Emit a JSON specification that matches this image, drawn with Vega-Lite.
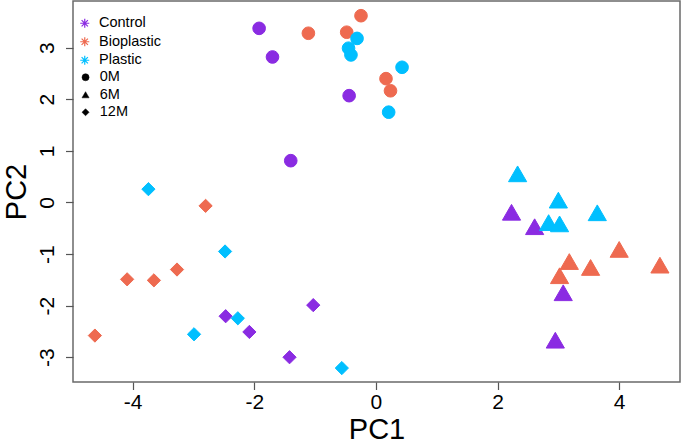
{
  "$schema": "https://vega.github.io/schema/vega-lite/v6.json",
  "autosize": "none",
  "padding": {"left": 73, "top": 1, "right": 5, "bottom": 61},
  "width": 607,
  "height": 381,
  "background": "white",
  "config": {
    "view": {"stroke": "#6a6a6a", "strokeWidth": 1.5},
    "font": "Liberation Sans",
    "legend": {"symbolBaseFillColor": "black", "symbolBaseStrokeColor": "black"},
    "axis": {
      "grid": false,
      "domain": false,
      "tickColor": "#555555",
      "tickSize": 7.5,
      "tickWidth": 1.2,
      "labelColor": "black",
      "labelFont": "Liberation Sans",
      "labelFontSize": 21,
      "titleFont": "Liberation Sans",
      "titleFontSize": 29,
      "titleFontWeight": "normal",
      "titleColor": "black"
    }
  },
  "data": {
    "values": [
      {"PC1": -1.92, "PC2": 3.375, "Treatment": "Control", "Time": "0M"},
      {"PC1": -1.70, "PC2": 2.82, "Treatment": "Control", "Time": "0M"},
      {"PC1": -0.44, "PC2": 2.07, "Treatment": "Control", "Time": "0M"},
      {"PC1": -1.40, "PC2": 0.81, "Treatment": "Control", "Time": "0M"},
      {"PC1": 2.23, "PC2": -0.19, "Treatment": "Control", "Time": "6M"},
      {"PC1": 2.61, "PC2": -0.47, "Treatment": "Control", "Time": "6M"},
      {"PC1": 3.08, "PC2": -1.75, "Treatment": "Control", "Time": "6M"},
      {"PC1": 2.95, "PC2": -2.67, "Treatment": "Control", "Time": "6M"},
      {"PC1": -2.47, "PC2": -2.205, "Treatment": "Control", "Time": "12M"},
      {"PC1": -2.08, "PC2": -2.51, "Treatment": "Control", "Time": "12M"},
      {"PC1": -1.03, "PC2": -1.99, "Treatment": "Control", "Time": "12M"},
      {"PC1": -1.42, "PC2": -3.00, "Treatment": "Control", "Time": "12M"},
      {"PC1": -1.11, "PC2": 3.28, "Treatment": "Bioplastic", "Time": "0M"},
      {"PC1": -0.48, "PC2": 3.30, "Treatment": "Bioplastic", "Time": "0M"},
      {"PC1": -0.245, "PC2": 3.62, "Treatment": "Bioplastic", "Time": "0M"},
      {"PC1": 0.166, "PC2": 2.40, "Treatment": "Bioplastic", "Time": "0M"},
      {"PC1": 0.24, "PC2": 2.165, "Treatment": "Bioplastic", "Time": "0M"},
      {"PC1": 4.00, "PC2": -0.91, "Treatment": "Bioplastic", "Time": "6M"},
      {"PC1": 3.18, "PC2": -1.145, "Treatment": "Bioplastic", "Time": "6M"},
      {"PC1": 3.53, "PC2": -1.26, "Treatment": "Bioplastic", "Time": "6M"},
      {"PC1": 4.67, "PC2": -1.215, "Treatment": "Bioplastic", "Time": "6M"},
      {"PC1": 3.02, "PC2": -1.42, "Treatment": "Bioplastic", "Time": "6M"},
      {"PC1": -2.80, "PC2": -0.066, "Treatment": "Bioplastic", "Time": "12M"},
      {"PC1": -3.27, "PC2": -1.30, "Treatment": "Bioplastic", "Time": "12M"},
      {"PC1": -4.09, "PC2": -1.49, "Treatment": "Bioplastic", "Time": "12M"},
      {"PC1": -3.65, "PC2": -1.51, "Treatment": "Bioplastic", "Time": "12M"},
      {"PC1": -4.62, "PC2": -2.58, "Treatment": "Bioplastic", "Time": "12M"},
      {"PC1": -0.31, "PC2": 3.18, "Treatment": "Plastic", "Time": "0M"},
      {"PC1": -0.45, "PC2": 2.99, "Treatment": "Plastic", "Time": "0M"},
      {"PC1": -0.41, "PC2": 2.86, "Treatment": "Plastic", "Time": "0M"},
      {"PC1": 0.43, "PC2": 2.62, "Treatment": "Plastic", "Time": "0M"},
      {"PC1": 0.21, "PC2": 1.75, "Treatment": "Plastic", "Time": "0M"},
      {"PC1": 2.33, "PC2": 0.555, "Treatment": "Plastic", "Time": "6M"},
      {"PC1": 3.00, "PC2": 0.045, "Treatment": "Plastic", "Time": "6M"},
      {"PC1": 3.64, "PC2": -0.20, "Treatment": "Plastic", "Time": "6M"},
      {"PC1": 2.84, "PC2": -0.39, "Treatment": "Plastic", "Time": "6M"},
      {"PC1": 3.02, "PC2": -0.415, "Treatment": "Plastic", "Time": "6M"},
      {"PC1": -3.74, "PC2": 0.258, "Treatment": "Plastic", "Time": "12M"},
      {"PC1": -2.48, "PC2": -0.95, "Treatment": "Plastic", "Time": "12M"},
      {"PC1": -2.27, "PC2": -2.245, "Treatment": "Plastic", "Time": "12M"},
      {"PC1": -2.99, "PC2": -2.555, "Treatment": "Plastic", "Time": "12M"},
      {"PC1": -0.56, "PC2": -3.21, "Treatment": "Plastic", "Time": "12M"}
    ]
  },
  "encoding": {
    "x": {
      "field": "PC1", "type": "quantitative",
      "scale": {"domain": [-4.98, 5.0], "nice": false, "zero": false},
      "axis": {
        "values": [-4, -2, 0, 2, 4],
        "labelExpr": "datum.value < 0 ? '-' + abs(datum.value) : '' + datum.value",
        "labelPadding": 2,
        "labelFlush": false,
        "title": "PC1",
        "titleY": 56,
        "titleBaseline": "alphabetic"
      }
    },
    "y": {
      "field": "PC2", "type": "quantitative",
      "scale": {"domain": [-3.48, 3.905], "nice": false, "zero": false},
      "axis": {
        "values": [-3, -2, -1, 0, 1, 2, 3],
        "labelExpr": "datum.value < 0 ? '-' + abs(datum.value) : '' + datum.value",
        "labelAngle": 270,
        "labelAlign": "center",
        "labelBaseline": "alphabetic",
        "labelPadding": 12.5,
        "labelFlush": false,
        "title": "PC2",
        "titleAngle": 270,
        "titleX": -48,
        "titleBaseline": "alphabetic"
      }
    },
    "fill": {
      "field": "Treatment", "type": "nominal",
      "scale": {"domain": ["Control", "Bioplastic", "Plastic"], "range": ["#8A2BE2", "#EE6A50", "#00BFFF"]},
      "legend": {
        "orient": "none",
        "legendX": 4.5,
        "legendY": 15,
        "title": null,
        "padding": 0,
        "symbolType": "M0,-1L0,1M-1,0L1,0M-0.7,-0.7L0.7,0.7M-0.7,0.7L0.7,-0.7",
        "symbolSize": 81,
        "symbolStrokeWidth": 1.2,
        "labelFont": "Liberation Sans",
        "labelFontSize": 14.5,
        "labelColor": "black",
        "labelOffset": 7,
        "rowPadding": 2.5
      }
    },
    "stroke": {
      "field": "Treatment", "type": "nominal",
      "scale": {"domain": ["Control", "Bioplastic", "Plastic"], "range": ["#8A2BE2", "#EE6A50", "#00BFFF"]},
      "legend": {
        "orient": "none",
        "legendX": 4.5,
        "legendY": 15,
        "title": null,
        "padding": 0,
        "symbolType": "M0,-1L0,1M-1,0L1,0M-0.7,-0.7L0.7,0.7M-0.7,0.7L0.7,-0.7",
        "symbolSize": 81,
        "symbolStrokeWidth": 1.2,
        "labelFont": "Liberation Sans",
        "labelFontSize": 14.5,
        "labelColor": "black",
        "labelOffset": 7,
        "rowPadding": 2.5
      }
    },
    "shape": {
      "field": "Time", "type": "nominal",
      "scale": {"domain": ["0M", "6M", "12M"], "range": ["circle", "triangle-up", "diamond"]},
      "legend": {
        "orient": "none",
        "legendX": 5.3,
        "legendY": 69,
        "title": null,
        "padding": 0,
        "symbolSize": 50,
        "symbolFillColor": "black",
        "symbolStrokeColor": "black",
        "symbolStrokeWidth": 0.5,
        "labelFont": "Liberation Sans",
        "labelFontSize": 14.5,
        "labelColor": "black",
        "labelOffset": 7,
        "rowPadding": 2.5
      }
    }
  },
  "layer": [
    {
      "transform": [{"filter": "datum.Time == '0M'"}],
      "mark": {"type": "point", "filled": true, "opacity": 1, "strokeWidth": 1, "size": 160}
    },
    {
      "transform": [{"filter": "datum.Time == '6M'"}],
      "mark": {"type": "point", "filled": true, "opacity": 1, "strokeWidth": 1, "size": 330}
    },
    {
      "transform": [{"filter": "datum.Time == '12M'"}],
      "mark": {"type": "point", "filled": true, "opacity": 1, "strokeWidth": 1, "size": 175}
    }
  ]
}
